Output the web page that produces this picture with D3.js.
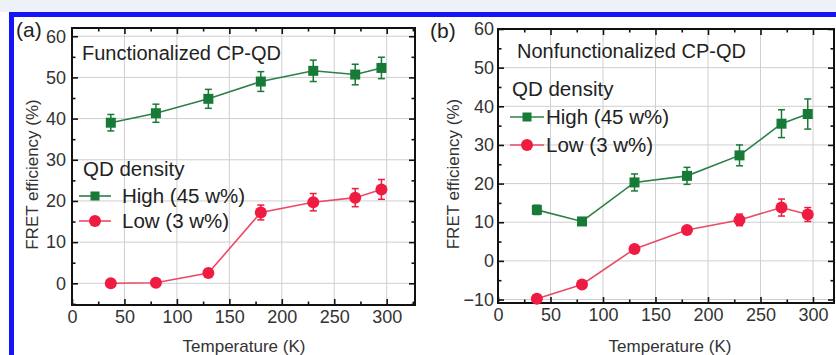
<!DOCTYPE html>
<html>
<head>
<meta charset="utf-8">
<script src="https://cdn.jsdelivr.net/npm/d3@7"></script>
<style>
  html, body { margin: 0; padding: 0; background: #ffffff; }
  svg { display: block; font-family: "Liberation Sans", Arial, sans-serif; }
</style>
</head>
<body>
<svg id="chart" width="836" height="355"></svg>
<script>
// Temperatures shared by every series (K)
const temperatures = [37, 80, 130, 180, 230, 270, 295];

// (a) Functionalized CP-QD
const funcHigh    = [39.0, 41.3, 44.8, 49.0, 51.6, 50.7, 52.3];
const funcHighErr = [2.0, 2.2, 2.3, 2.4, 2.6, 2.5, 2.6];
const funcLow     = [0.0, 0.15, 2.5, 17.2, 19.7, 20.8, 22.8];
const funcLowErr  = [0.4, 0.4, 0.8, 1.8, 2.1, 2.2, 2.4];

// (b) Nonfunctionalized CP-QD
const nonfHigh    = [13.2, 10.2, 20.3, 22.0, 27.3, 35.5, 38.0];
const nonfHighErr = [1.2, 0.6, 2.2, 2.2, 2.7, 3.6, 3.9];
const nonfLow     = [-9.8, -6.1, 3.1, 8.0, 10.6, 13.8, 12.0];
const nonfLowErr  = [0.6, 0.6, 0.7, 0.8, 1.5, 2.2, 1.8];

const xTicks = [0, 50, 100, 150, 200, 250, 300];
const yTicksA = [0, 10, 20, 30, 40, 50, 60];
const yTicksB = [-10, 0, 10, 20, 30, 40, 50, 60];

const seriesLabels = ["High (45 w%)", "Low (3 w%)"];
const green = "#187a37", greenLine = "#2a8046";
const red = "#ef1b40", redLine = "#ea4a66";

const svg = d3.select("#chart");

// page frame: pale strip and blue border
svg.append("rect").attr("x", 0).attr("y", 0).attr("width", 836).attr("height", 12).attr("fill", "#edf2f9");
svg.append("rect").attr("x", 9).attr("y", 12).attr("width", 827).attr("height", 5).attr("fill", "#1414f5");
svg.append("rect").attr("x", 9).attr("y", 12).attr("width", 5).attr("height", 343).attr("fill", "#1414f5");

function drawPanel(p) {
  const g = svg.append("g");
  const x = d3.scaleLinear().domain(p.xDomain).range([p.left, p.right]);
  const y = d3.scaleLinear().domain(p.yDomain).range([p.bottom, p.top]);

  // grid
  g.append("g").selectAll("line").data(xTicks.filter(t => t > p.xDomain[0])).join("line")
    .attr("x1", d => x(d)).attr("x2", d => x(d)).attr("y1", p.top).attr("y2", p.bottom)
    .attr("stroke", "#cfcfcf").attr("stroke-width", 1);
  g.append("g").selectAll("line").data(p.yTicks).join("line")
    .attr("x1", p.left).attr("x2", p.right).attr("y1", d => y(d)).attr("y2", d => y(d))
    .attr("stroke", "#cfcfcf").attr("stroke-width", 1);

  // axes with inward ticks (major + minor)
  const xMinor = d3.range(25, p.xDomain[1], 50);
  const yMinor = d3.range(p.yTicks[0] - 5, p.yDomain[1], 10).filter(v => v > p.yDomain[0]);
  const tickStyle = sel => sel.call(s => s.select(".domain").remove())
    .call(s => s.selectAll("line").attr("stroke", "#111").attr("stroke-width", 1.6));

  const bottom = g.append("g").attr("transform", `translate(0,${p.bottom})`)
    .call(d3.axisBottom(x).tickValues(xTicks).tickSizeInner(-6).tickSizeOuter(0).tickPadding(5))
    .call(tickStyle);
  bottom.selectAll("text").attr("font-size", 18).attr("fill", "#333")
    .attr("font-family", "Liberation Sans, Arial, sans-serif");
  g.append("g").attr("transform", `translate(0,${p.bottom})`)
    .call(d3.axisBottom(x).tickValues(xMinor).tickSizeInner(-3.5).tickSizeOuter(0).tickFormat(""))
    .call(tickStyle);
  g.append("g").attr("transform", `translate(0,${p.top})`)
    .call(d3.axisTop(x).tickValues(xTicks.filter(t => t > 0)).tickSizeInner(-6).tickSizeOuter(0).tickFormat(""))
    .call(tickStyle);
  g.append("g").attr("transform", `translate(0,${p.top})`)
    .call(d3.axisTop(x).tickValues(xMinor).tickSizeInner(-3.5).tickSizeOuter(0).tickFormat(""))
    .call(tickStyle);

  const left = g.append("g").attr("transform", `translate(${p.left},0)`)
    .call(d3.axisLeft(y).tickValues(p.yTicks).tickSizeInner(-6).tickSizeOuter(0).tickPadding(p.yPad))
    .call(tickStyle);
  left.selectAll("text").attr("font-size", 18).attr("fill", "#333")
    .attr("font-family", "Liberation Sans, Arial, sans-serif");
  g.append("g").attr("transform", `translate(${p.left},0)`)
    .call(d3.axisLeft(y).tickValues(yMinor).tickSizeInner(-3.5).tickSizeOuter(0).tickFormat(""))
    .call(tickStyle);
  g.append("g").attr("transform", `translate(${p.right},0)`)
    .call(d3.axisRight(y).tickValues(p.yTicks).tickSizeInner(-6).tickSizeOuter(0).tickFormat(""))
    .call(tickStyle);
  g.append("g").attr("transform", `translate(${p.right},0)`)
    .call(d3.axisRight(y).tickValues(yMinor).tickSizeInner(-3.5).tickSizeOuter(0).tickFormat(""))
    .call(tickStyle);

  // frame
  g.append("rect").attr("x", p.left).attr("y", p.top)
    .attr("width", p.right - p.left).attr("height", p.bottom - p.top)
    .attr("fill", "none").attr("stroke", "#111").attr("stroke-width", 2);

  const line = d3.line().x((d, i) => x(temperatures[i])).y(d => y(d));

  function series(vals, errs, color, lineColor, shape) {
    const s = g.append("g");
    s.append("path").datum(vals).attr("d", line).attr("fill", "none")
      .attr("stroke", lineColor).attr("stroke-width", 1.6);
    const eb = s.append("g").selectAll("g").data(vals).join("g");
    eb.append("line")
      .attr("x1", (d, i) => x(temperatures[i])).attr("x2", (d, i) => x(temperatures[i]))
      .attr("y1", (d, i) => y(d + errs[i])).attr("y2", (d, i) => y(d - errs[i]))
      .attr("stroke", color).attr("stroke-width", 1.5);
    [1, -1].forEach(sign => {
      eb.append("line")
        .attr("x1", (d, i) => x(temperatures[i]) - 3.5).attr("x2", (d, i) => x(temperatures[i]) + 3.5)
        .attr("y1", (d, i) => y(d + sign * errs[i])).attr("y2", (d, i) => y(d + sign * errs[i]))
        .attr("stroke", color).attr("stroke-width", 1.5);
    });
    if (shape === "square") {
      s.append("g").selectAll("rect").data(vals).join("rect")
        .attr("x", (d, i) => x(temperatures[i]) - 5).attr("y", d => y(d) - 5)
        .attr("width", 10).attr("height", 10).attr("fill", color);
    } else {
      s.append("g").selectAll("circle").data(vals).join("circle")
        .attr("cx", (d, i) => x(temperatures[i])).attr("cy", d => y(d))
        .attr("r", 6).attr("fill", color);
    }
  }
  series(p.high, p.highErr, green, greenLine, "square");
  series(p.low, p.lowErr, red, redLine, "circle");

  // texts inside the plot
  const txt = (tx, ty, s, size, anchor) => g.append("text").attr("x", tx).attr("y", ty)
    .attr("font-size", size).attr("fill", "#222").attr("text-anchor", anchor || "start").text(s);
  txt(p.title[0], p.title[1], p.title[2], 20);
  txt(p.legend.x0, p.legend.headY, "QD density", 20.5);

  // legend entries
  const lg = p.legend;
  const rows = [
    { label: seriesLabels[0], y: lg.highY, c: green, lc: greenLine, shape: "square" },
    { label: seriesLabels[1], y: lg.lowY, c: red, lc: redLine, shape: "circle" }
  ];
  rows.forEach(r => {
    g.append("line").attr("x1", lg.lineX0).attr("x2", lg.lineX1).attr("y1", r.y).attr("y2", r.y)
      .attr("stroke", r.lc).attr("stroke-width", 1.6);
    const cx = (lg.lineX0 + lg.lineX1) / 2;
    if (r.shape === "square") {
      g.append("rect").attr("x", cx - 4.5).attr("y", r.y - 4.5).attr("width", 9).attr("height", 9).attr("fill", r.c);
    } else {
      g.append("circle").attr("cx", cx).attr("cy", r.y).attr("r", 6).attr("fill", r.c);
    }
    txt(lg.textX, r.y + 7, r.label, 20.5);
  });

  // axis titles and panel letter
  g.append("text").attr("transform", `translate(${p.yTitleX},${(p.top + p.bottom) / 2 + 8}) rotate(-90)`)
    .attr("text-anchor", "middle").attr("font-size", 17).attr("fill", "#333").text("FRET efficiency (%)");
  g.append("text").attr("x", p.xTitleX).attr("y", 352)
    .attr("text-anchor", "middle").attr("font-size", 17).attr("fill", "#333").text("Temperature (K)");
  g.append("text").attr("x", p.letter[0]).attr("y", p.letter[1])
    .attr("font-size", 21).attr("fill", "#222").text(p.letter[2]);
}

drawPanel({
  left: 72, right: 415, top: 28, bottom: 305,
  xDomain: [0, 327], yDomain: [-5.27, 62.0], yTicks: yTicksA, yPad: 6,
  high: funcHigh, highErr: funcHighErr, low: funcLow, lowErr: funcLowErr,
  title: [82, 60, "Functionalized CP-QD"],
  legend: { x0: 83, headY: 176, lineX0: 79, lineX1: 111, highY: 196, lowY: 221, textX: 122 },
  yTitleX: 38, xTitleX: 244, letter: [16, 37, "(a)"]
});

drawPanel({
  left: 498, right: 834, top: 29, bottom: 303,
  xDomain: [0, 320], yDomain: [-10.9, 60.0], yTicks: yTicksB, yPad: 4,
  high: nonfHigh, highErr: nonfHighErr, low: nonfLow, lowErr: nonfLowErr,
  title: [517, 58, "Nonfunctionalized CP-QD"],
  legend: { x0: 512, headY: 96, lineX0: 510, lineX1: 544, highY: 117, lowY: 145, textX: 546 },
  yTitleX: 459, xTitleX: 670, letter: [430, 38, "(b)"]
});
</script>
</body>
</html>
